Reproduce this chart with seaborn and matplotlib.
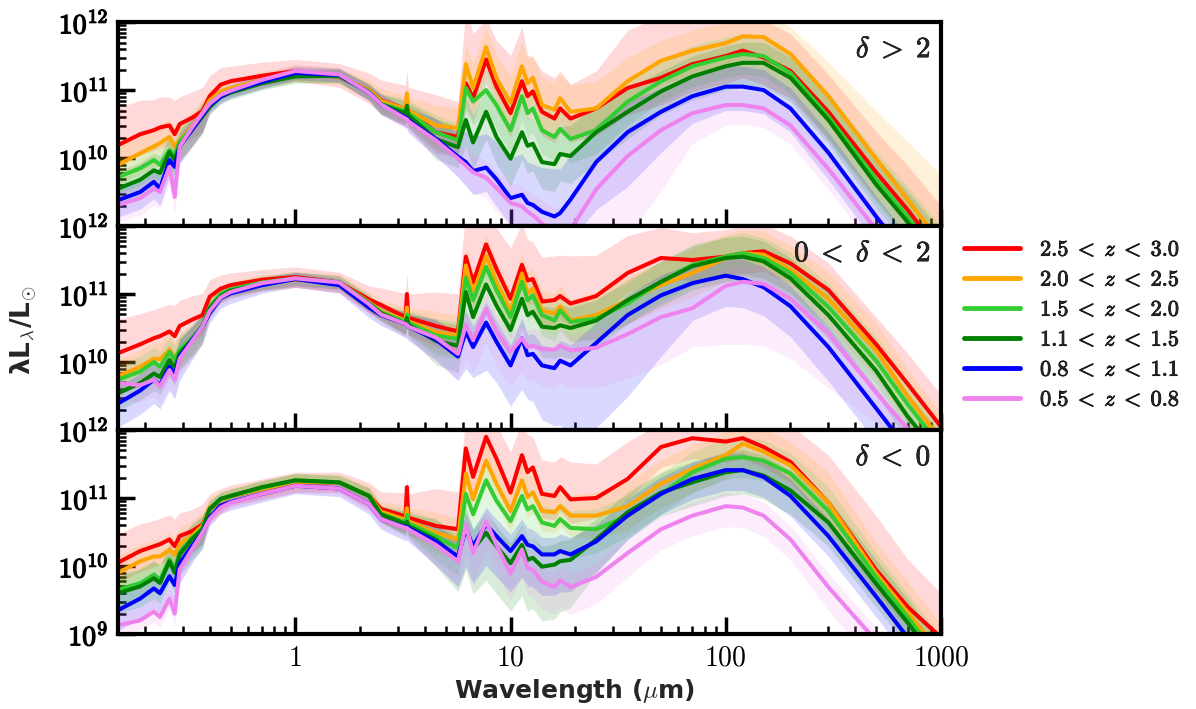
"""
Median SEDs in three delta bins, split by redshift, with spread bands.
Output: out.png
"""

import numpy as np
import pandas as pd
import matplotlib
matplotlib.use("Agg")
import matplotlib.pyplot as plt
import matplotlib.patheffects as pe
from matplotlib.lines import Line2D
from matplotlib.ticker import FixedLocator, LogLocator, NullFormatter, FixedFormatter
import seaborn as sns


# wavelength grid (micron), shared by every curve
WAVE = [0.15, 0.19, 0.22, 0.235, 0.26, 0.275, 0.29, 0.33, 0.37, 0.4, 0.45, 0.5, 0.7, 1.0,
        1.6, 2.2, 2.5, 3.25, 3.3, 3.35, 4.5, 5.7, 6.2, 6.7, 7.7, 8.6, 10, 11.3, 12.0, 12.7,
        14, 16, 17, 19, 25, 35, 50, 70, 100, 120, 150, 200, 300, 500, 700, 1000]

BINS = ["2.5<z<3.0", "2.0<z<2.5", "1.5<z<2.0", "1.1<z<1.5", "0.8<z<1.1", "0.5<z<0.8"]
LABELS = [r"$\mathbf{2.5}\;<\;z\;<\;\mathbf{3.0}$", r"$\mathbf{2.0}\;<\;z\;<\;\mathbf{2.5}$",
          r"$\mathbf{1.5}\;<\;z\;<\;\mathbf{2.0}$", r"$\mathbf{1.1}\;<\;z\;<\;\mathbf{1.5}$",
          r"$\mathbf{0.8}\;<\;z\;<\;\mathbf{1.1}$", r"$\mathbf{0.5}\;<\;z\;<\;\mathbf{0.8}$"]
COLORS = ["#ff0000", "#ffa500", "#32cd32", "#008000", "#0000ff", "#ee82ee"]
PANEL_LABELS = [r"$\delta\;>\;\mathbf{2}$", r"$\mathbf{0}\;<\;\delta\;<\;\mathbf{2}$",
                r"$\delta\;<\;\mathbf{0}$"]

# log10(lambda L_lambda / Lsun), one row per redshift bin (order of BINS)
top_med = [
    [10.19, 10.35, 10.41, 10.45, 10.48, 10.35, 10.50, 10.59, 10.69, 10.91, 11.08, 11.13, 11.21, 11.28, 11.19, 11.00, 10.85, 10.72, 10.70, 10.69, 10.38, 10.31, 11.10, 10.88, 11.45, 11.05, 10.66, 11.13, 10.91, 10.98, 10.68, 10.58, 10.73, 10.58, 10.73, 11.03, 11.18, 11.38, 11.50, 11.58, 11.48, 11.28, 10.68, 9.79, 9.24, 8.60],
    [9.90, 10.07, 10.17, 10.22, 10.31, 10.17, 10.26, 10.46, 10.66, 10.85, 10.98, 11.03, 11.15, 11.25, 11.20, 11.00, 10.84, 10.72, 10.95, 10.70, 10.48, 10.44, 11.38, 11.03, 11.63, 11.18, 10.81, 11.35, 11.10, 11.18, 10.78, 10.71, 10.88, 10.68, 10.73, 11.13, 11.43, 11.58, 11.69, 11.79, 11.78, 11.53, 10.91, 9.99, 9.39, 8.75],
    [9.72, 9.85, 9.97, 9.90, 10.12, 10.04, 10.24, 10.44, 10.63, 10.80, 10.93, 10.99, 11.12, 11.22, 11.20, 10.98, 10.80, 10.69, 10.72, 10.66, 10.38, 10.26, 11.03, 10.83, 11.00, 10.78, 10.41, 10.91, 10.66, 10.73, 10.41, 10.31, 10.43, 10.28, 10.41, 10.83, 11.13, 11.35, 11.48, 11.53, 11.50, 11.25, 10.61, 9.69, 9.14, 8.50],
    [9.55, 9.68, 9.82, 9.78, 10.09, 9.97, 10.19, 10.41, 10.61, 10.75, 10.90, 10.96, 11.10, 11.20, 11.21, 10.97, 10.79, 10.66, 10.77, 10.63, 10.28, 10.16, 10.56, 10.23, 10.68, 10.31, 9.99, 10.38, 10.18, 10.21, 9.94, 9.91, 10.06, 10.03, 10.38, 10.68, 10.98, 11.20, 11.35, 11.40, 11.40, 11.18, 10.56, 9.61, 9.06, 8.42],
    [9.38, 9.50, 9.65, 9.55, 9.97, 9.87, 10.17, 10.41, 10.63, 10.78, 10.90, 10.98, 11.12, 11.25, 11.22, 10.96, 10.79, 10.60, 10.59, 10.56, 10.28, 10.02, 9.94, 9.81, 9.86, 9.69, 9.41, 9.46, 9.34, 9.31, 9.21, 9.14, 9.19, 9.39, 9.94, 10.38, 10.68, 10.91, 11.05, 11.05, 11.00, 10.73, 10.08, 9.14, 8.55, 7.90],
    [9.31, 9.41, 9.55, 9.50, 9.87, 9.43, 10.17, 10.44, 10.66, 10.80, 10.93, 10.99, 11.15, 11.28, 11.23, 10.96, 10.79, 10.58, 10.57, 10.54, 10.26, 9.99, 9.89, 9.79, 9.71, 9.56, 9.34, 9.29, 9.21, 9.16, 9.04, 8.85, 8.88, 8.95, 9.54, 10.03, 10.41, 10.66, 10.78, 10.78, 10.73, 10.48, 9.84, 8.95, 8.35, 7.70],
]
top_hi = [
    [0.55, 0.50, 0.45, 0.45, 0.42, 0.50, 0.40, 0.38, 0.35, 0.30, 0.25, 0.22, 0.20, 0.17, 0.20, 0.25, 0.30, 0.35, 0.60, 0.35, 0.55, 0.52, 1.10, 0.95, 0.60, 0.68, 0.85, 0.80, 0.60, 0.50, 0.60, 0.60, 0.55, 0.50, 0.55, 0.85, 0.90, 0.70, 0.60, 0.55, 0.55, 0.55, 0.55, 0.60, 0.65, 0.70],
    [0.30, 0.30, 0.28, 0.28, 0.25, 0.28, 0.25, 0.22, 0.20, 0.15, 0.13, 0.12, 0.12, 0.12, 0.12, 0.15, 0.18, 0.20, 0.20, 0.20, 0.30, 0.30, 0.30, 0.35, 0.30, 0.35, 0.40, 0.35, 0.35, 0.35, 0.40, 0.40, 0.35, 0.40, 0.40, 0.35, 0.30, 0.30, 0.30, 0.30, 0.35, 0.40, 0.50, 0.70, 0.85, 1.00],
    [0.25, 0.25, 0.25, 0.25, 0.22, 0.25, 0.22, 0.20, 0.18, 0.12, 0.10, 0.10, 0.10, 0.10, 0.10, 0.12, 0.15, 0.18, 0.18, 0.18, 0.25, 0.25, 0.30, 0.30, 0.30, 0.30, 0.35, 0.30, 0.30, 0.30, 0.35, 0.35, 0.30, 0.35, 0.35, 0.30, 0.30, 0.30, 0.30, 0.30, 0.30, 0.30, 0.35, 0.40, 0.45, 0.50],
    [0.25, 0.25, 0.25, 0.25, 0.22, 0.25, 0.22, 0.20, 0.18, 0.12, 0.10, 0.10, 0.10, 0.10, 0.10, 0.12, 0.15, 0.18, 0.18, 0.18, 0.30, 0.30, 0.35, 0.40, 0.35, 0.40, 0.45, 0.40, 0.40, 0.40, 0.45, 0.45, 0.40, 0.45, 0.40, 0.35, 0.30, 0.30, 0.30, 0.30, 0.30, 0.30, 0.35, 0.40, 0.45, 0.50],
    [0.20, 0.20, 0.20, 0.20, 0.18, 0.20, 0.18, 0.15, 0.14, 0.12, 0.10, 0.10, 0.10, 0.10, 0.10, 0.12, 0.15, 0.15, 0.15, 0.18, 0.30, 0.35, 0.45, 0.50, 0.50, 0.55, 0.60, 0.60, 0.60, 0.60, 0.65, 0.70, 0.65, 0.65, 0.55, 0.45, 0.35, 0.30, 0.30, 0.30, 0.30, 0.30, 0.30, 0.30, 0.30, 0.30],
    [0.20, 0.20, 0.20, 0.20, 0.18, 0.25, 0.18, 0.15, 0.14, 0.12, 0.10, 0.10, 0.10, 0.10, 0.10, 0.12, 0.15, 0.15, 0.15, 0.15, 0.20, 0.20, 0.25, 0.25, 0.25, 0.25, 0.30, 0.30, 0.30, 0.30, 0.35, 0.40, 0.40, 0.45, 0.45, 0.40, 0.30, 0.25, 0.22, 0.22, 0.22, 0.22, 0.25, 0.30, 0.30, 0.30],
]
top_lo = [
    [0.30, 0.30, 0.30, 0.30, 0.30, 0.30, 0.30, 0.30, 0.30, 0.20, 0.18, 0.15, 0.15, 0.15, 0.15, 0.20, 0.20, 0.25, 0.25, 0.25, 0.30, 0.30, 0.35, 0.35, 0.35, 0.35, 0.35, 0.35, 0.35, 0.35, 0.35, 0.35, 0.35, 0.35, 0.40, 0.40, 0.40, 0.40, 0.40, 0.40, 0.40, 0.40, 0.40, 0.40, 0.40, 0.40],
    [0.30, 0.30, 0.30, 0.30, 0.30, 0.30, 0.30, 0.30, 0.30, 0.15, 0.12, 0.12, 0.12, 0.12, 0.12, 0.15, 0.15, 0.20, 0.20, 0.20, 0.30, 0.30, 0.35, 0.35, 0.35, 0.35, 0.35, 0.35, 0.35, 0.35, 0.35, 0.35, 0.35, 0.35, 0.35, 0.35, 0.35, 0.35, 0.35, 0.35, 0.35, 0.35, 0.40, 0.40, 0.40, 0.40],
    [0.25, 0.25, 0.25, 0.25, 0.25, 0.25, 0.25, 0.25, 0.25, 0.12, 0.10, 0.10, 0.10, 0.10, 0.10, 0.12, 0.15, 0.18, 0.18, 0.18, 0.25, 0.25, 0.35, 0.35, 0.35, 0.35, 0.35, 0.35, 0.35, 0.35, 0.35, 0.35, 0.35, 0.35, 0.35, 0.35, 0.30, 0.30, 0.30, 0.30, 0.30, 0.30, 0.35, 0.35, 0.35, 0.35],
    [0.25, 0.25, 0.25, 0.25, 0.25, 0.25, 0.25, 0.25, 0.25, 0.12, 0.10, 0.10, 0.10, 0.10, 0.10, 0.12, 0.15, 0.18, 0.18, 0.18, 0.30, 0.30, 0.40, 0.40, 0.40, 0.40, 0.40, 0.40, 0.40, 0.40, 0.40, 0.40, 0.40, 0.40, 0.45, 0.40, 0.35, 0.35, 0.35, 0.35, 0.35, 0.35, 0.35, 0.35, 0.35, 0.35],
    [0.25, 0.25, 0.25, 0.25, 0.25, 0.25, 0.25, 0.25, 0.25, 0.12, 0.10, 0.10, 0.10, 0.10, 0.10, 0.12, 0.15, 0.15, 0.15, 0.18, 0.25, 0.30, 0.35, 0.35, 0.35, 0.40, 0.40, 0.45, 0.45, 0.45, 0.50, 0.60, 0.60, 0.60, 0.70, 0.80, 0.60, 0.40, 0.35, 0.35, 0.35, 0.35, 0.40, 0.40, 0.40, 0.40],
    [0.25, 0.25, 0.25, 0.25, 0.25, 0.25, 0.25, 0.25, 0.25, 0.12, 0.10, 0.10, 0.10, 0.10, 0.10, 0.12, 0.15, 0.15, 0.15, 0.18, 0.25, 0.25, 0.30, 0.30, 0.30, 0.35, 0.35, 0.40, 0.40, 0.40, 0.45, 0.50, 0.50, 0.60, 1.00, 1.20, 0.90, 0.45, 0.30, 0.28, 0.28, 0.28, 0.30, 0.35, 0.35, 0.35],
]

mid_med = [
    [10.13, 10.26, 10.35, 10.38, 10.45, 10.38, 10.53, 10.62, 10.69, 10.96, 11.08, 11.13, 11.21, 11.25, 11.17, 10.92, 10.84, 10.66, 11.00, 10.65, 10.53, 10.45, 11.55, 11.17, 11.73, 11.37, 10.93, 11.43, 11.20, 11.22, 10.89, 10.91, 10.97, 10.86, 10.97, 11.31, 11.53, 11.50, 11.55, 11.60, 11.63, 11.45, 11.06, 10.26, 9.68, 9.05],
    [9.79, 9.93, 10.05, 10.04, 10.18, 10.05, 10.15, 10.32, 10.52, 10.79, 10.99, 11.06, 11.16, 11.21, 11.17, 10.88, 10.75, 10.61, 10.80, 10.60, 10.44, 10.39, 11.42, 11.01, 11.56, 11.18, 10.76, 11.30, 11.01, 11.08, 10.76, 10.71, 10.82, 10.61, 10.69, 10.91, 11.13, 11.31, 11.53, 11.60, 11.58, 11.36, 10.93, 10.17, 9.50, 8.85],
    [9.74, 9.86, 10.00, 9.93, 10.15, 10.03, 10.18, 10.35, 10.54, 10.81, 11.00, 11.07, 11.17, 11.23, 11.17, 10.87, 10.73, 10.59, 10.70, 10.58, 10.39, 10.34, 11.24, 10.91, 11.40, 11.06, 10.66, 11.18, 10.91, 10.98, 10.69, 10.61, 10.76, 10.59, 10.64, 10.86, 11.18, 11.43, 11.55, 11.60, 11.53, 11.31, 10.81, 10.02, 9.38, 8.75],
    [9.54, 9.69, 9.83, 9.78, 10.03, 9.91, 10.13, 10.32, 10.52, 10.79, 10.97, 11.05, 11.15, 11.22, 11.17, 10.86, 10.72, 10.56, 10.65, 10.55, 10.31, 10.24, 11.03, 10.66, 11.14, 10.83, 10.47, 10.93, 10.69, 10.74, 10.52, 10.50, 10.54, 10.50, 10.61, 10.91, 11.18, 11.41, 11.53, 11.55, 11.48, 11.23, 10.69, 9.87, 9.20, 8.60],
    [9.39, 9.58, 9.74, 9.66, 9.93, 9.81, 10.08, 10.32, 10.52, 10.72, 10.94, 11.01, 11.13, 11.22, 11.13, 10.80, 10.69, 10.56, 10.55, 10.52, 10.33, 10.08, 10.45, 10.22, 10.58, 10.30, 9.95, 10.35, 10.10, 10.12, 9.95, 9.91, 10.02, 9.95, 10.28, 10.69, 10.98, 11.16, 11.27, 11.22, 11.10, 10.82, 10.22, 9.32, 8.72, 8.08],
    [9.69, 9.66, 9.74, 9.64, 9.88, 9.74, 10.05, 10.30, 10.52, 10.75, 10.95, 11.03, 11.16, 11.23, 11.17, 10.85, 10.70, 10.56, 10.55, 10.52, 10.36, 10.12, 10.55, 10.32, 10.78, 10.45, 10.15, 10.35, 10.22, 10.24, 10.19, 10.18, 10.24, 10.17, 10.21, 10.41, 10.66, 10.79, 11.12, 11.18, 11.15, 10.93, 10.42, 9.55, 9.02, 8.40],
]
mid_hi = [
    [0.50, 0.45, 0.42, 0.42, 0.40, 0.45, 0.38, 0.35, 0.32, 0.25, 0.20, 0.18, 0.15, 0.15, 0.15, 0.20, 0.25, 0.35, 0.30, 0.35, 0.50, 0.55, 0.70, 0.85, 0.50, 0.60, 0.75, 0.60, 0.60, 0.55, 0.65, 0.65, 0.60, 0.70, 0.60, 0.55, 0.45, 0.40, 0.40, 0.40, 0.40, 0.40, 0.40, 0.40, 0.45, 0.47],
    [0.25, 0.25, 0.25, 0.25, 0.25, 0.25, 0.25, 0.22, 0.20, 0.15, 0.12, 0.12, 0.12, 0.12, 0.12, 0.15, 0.15, 0.20, 0.20, 0.20, 0.30, 0.30, 0.30, 0.30, 0.30, 0.30, 0.30, 0.30, 0.30, 0.30, 0.30, 0.30, 0.30, 0.30, 0.35, 0.35, 0.35, 0.35, 0.35, 0.35, 0.35, 0.35, 0.40, 0.40, 0.40, 0.40],
    [0.22, 0.22, 0.22, 0.22, 0.22, 0.22, 0.22, 0.20, 0.18, 0.12, 0.10, 0.10, 0.10, 0.10, 0.10, 0.12, 0.12, 0.18, 0.18, 0.18, 0.25, 0.25, 0.25, 0.25, 0.25, 0.25, 0.25, 0.25, 0.25, 0.25, 0.25, 0.25, 0.25, 0.25, 0.30, 0.30, 0.30, 0.30, 0.30, 0.30, 0.30, 0.30, 0.35, 0.35, 0.35, 0.35],
    [0.22, 0.22, 0.22, 0.22, 0.22, 0.22, 0.22, 0.20, 0.18, 0.12, 0.10, 0.10, 0.10, 0.10, 0.10, 0.12, 0.12, 0.18, 0.18, 0.18, 0.30, 0.30, 0.30, 0.30, 0.30, 0.30, 0.30, 0.30, 0.30, 0.30, 0.30, 0.30, 0.30, 0.30, 0.30, 0.30, 0.30, 0.30, 0.30, 0.30, 0.30, 0.30, 0.35, 0.35, 0.35, 0.35],
    [0.25, 0.25, 0.25, 0.25, 0.25, 0.25, 0.25, 0.20, 0.18, 0.12, 0.10, 0.10, 0.10, 0.10, 0.10, 0.12, 0.12, 0.18, 0.18, 0.18, 0.30, 0.30, 0.30, 0.30, 0.30, 0.30, 0.30, 0.30, 0.30, 0.30, 0.30, 0.30, 0.30, 0.30, 0.30, 0.30, 0.30, 0.30, 0.30, 0.30, 0.30, 0.30, 0.30, 0.30, 0.30, 0.30],
    [0.20, 0.20, 0.20, 0.20, 0.20, 0.20, 0.20, 0.18, 0.16, 0.12, 0.10, 0.10, 0.10, 0.10, 0.10, 0.12, 0.12, 0.15, 0.15, 0.15, 0.25, 0.25, 0.25, 0.25, 0.25, 0.25, 0.25, 0.25, 0.25, 0.25, 0.25, 0.25, 0.25, 0.25, 0.25, 0.25, 0.25, 0.25, 0.25, 0.25, 0.25, 0.25, 0.25, 0.25, 0.25, 0.25],
]
mid_lo = [
    [0.30, 0.30, 0.30, 0.30, 0.30, 0.30, 0.30, 0.30, 0.30, 0.20, 0.18, 0.15, 0.15, 0.15, 0.15, 0.20, 0.20, 0.25, 0.25, 0.25, 0.30, 0.30, 0.35, 0.35, 0.35, 0.35, 0.35, 0.35, 0.35, 0.35, 0.35, 0.35, 0.35, 0.35, 0.30, 0.30, 0.30, 0.30, 0.30, 0.30, 0.30, 0.30, 0.30, 0.30, 0.30, 0.30],
    [0.25, 0.25, 0.25, 0.25, 0.25, 0.25, 0.25, 0.25, 0.25, 0.15, 0.12, 0.12, 0.12, 0.12, 0.12, 0.15, 0.15, 0.20, 0.20, 0.20, 0.30, 0.30, 0.30, 0.30, 0.30, 0.30, 0.30, 0.30, 0.30, 0.30, 0.30, 0.30, 0.30, 0.30, 0.35, 0.35, 0.35, 0.35, 0.35, 0.35, 0.35, 0.35, 0.40, 0.40, 0.40, 0.40],
    [0.22, 0.22, 0.22, 0.22, 0.22, 0.22, 0.22, 0.22, 0.22, 0.12, 0.10, 0.10, 0.10, 0.10, 0.10, 0.12, 0.12, 0.18, 0.18, 0.18, 0.30, 0.30, 0.30, 0.30, 0.30, 0.30, 0.30, 0.30, 0.30, 0.30, 0.30, 0.30, 0.30, 0.30, 0.30, 0.30, 0.30, 0.30, 0.30, 0.30, 0.30, 0.30, 0.35, 0.35, 0.35, 0.35],
    [0.25, 0.25, 0.25, 0.25, 0.25, 0.25, 0.25, 0.25, 0.25, 0.12, 0.10, 0.10, 0.10, 0.10, 0.10, 0.12, 0.12, 0.18, 0.18, 0.18, 0.35, 0.40, 0.45, 0.45, 0.45, 0.45, 0.45, 0.45, 0.45, 0.45, 0.45, 0.45, 0.45, 0.45, 0.40, 0.35, 0.35, 0.35, 0.35, 0.35, 0.35, 0.35, 0.35, 0.35, 0.35, 0.35],
    [0.35, 0.35, 0.35, 0.35, 0.35, 0.35, 0.35, 0.30, 0.25, 0.15, 0.15, 0.15, 0.12, 0.12, 0.12, 0.15, 0.15, 0.20, 0.20, 0.20, 0.30, 0.35, 0.55, 0.45, 0.70, 0.60, 0.60, 0.75, 0.65, 0.70, 0.80, 0.85, 0.95, 1.00, 1.25, 1.20, 0.90, 0.55, 0.45, 0.42, 0.42, 0.45, 0.50, 0.50, 0.50, 0.50],
    [0.25, 0.25, 0.25, 0.25, 0.25, 0.25, 0.25, 0.22, 0.20, 0.12, 0.12, 0.12, 0.12, 0.12, 0.12, 0.15, 0.15, 0.20, 0.20, 0.20, 0.35, 0.40, 0.50, 0.50, 0.50, 0.50, 0.50, 0.50, 0.50, 0.50, 0.55, 0.55, 0.55, 0.55, 0.60, 0.65, 0.70, 0.57, 0.86, 0.92, 0.91, 0.88, 0.80, 0.45, 0.35, 0.35],
]

bot_med = [
    [10.05, 10.22, 10.29, 10.32, 10.39, 10.29, 10.44, 10.51, 10.61, 10.84, 10.96, 11.03, 11.13, 11.23, 11.23, 11.03, 10.84, 10.73, 11.16, 10.71, 10.59, 10.54, 11.73, 11.31, 11.90, 11.58, 11.08, 11.63, 11.38, 11.45, 11.06, 11.03, 11.16, 10.98, 11.00, 11.28, 11.75, 11.88, 11.83, 11.88, 11.75, 11.53, 10.93, 9.94, 9.40, 8.95],
    [9.90, 10.07, 10.14, 10.14, 10.24, 10.17, 10.32, 10.44, 10.59, 10.86, 10.96, 11.03, 11.13, 11.24, 11.23, 11.03, 10.80, 10.68, 10.85, 10.66, 10.49, 10.39, 11.36, 10.98, 11.55, 11.21, 10.81, 11.26, 11.01, 11.08, 10.81, 10.79, 10.88, 10.74, 10.74, 10.88, 11.21, 11.43, 11.63, 11.80, 11.68, 11.48, 10.93, 9.89, 9.32, 8.70],
    [9.65, 9.75, 9.87, 9.80, 10.10, 9.95, 10.20, 10.41, 10.56, 10.84, 10.98, 11.03, 11.15, 11.26, 11.23, 11.03, 10.77, 10.64, 10.75, 10.63, 10.44, 10.26, 11.06, 10.76, 11.26, 10.96, 10.66, 11.03, 10.83, 10.88, 10.64, 10.59, 10.69, 10.56, 10.54, 10.74, 11.06, 11.38, 11.58, 11.60, 11.55, 11.36, 10.81, 9.84, 9.25, 8.60],
    [9.60, 9.70, 9.82, 9.75, 10.07, 9.90, 10.17, 10.39, 10.54, 10.84, 10.99, 11.03, 11.16, 11.26, 11.23, 11.03, 10.76, 10.62, 10.65, 10.59, 10.39, 10.12, 10.59, 10.24, 10.49, 10.29, 10.04, 10.31, 10.09, 10.12, 9.99, 10.02, 10.07, 10.09, 10.39, 10.79, 11.08, 11.23, 11.38, 11.41, 11.33, 11.11, 10.64, 9.74, 9.17, 8.50],
    [9.35, 9.52, 9.67, 9.60, 9.85, 9.72, 10.04, 10.29, 10.49, 10.71, 10.89, 10.94, 11.06, 11.18, 11.14, 10.91, 10.69, 10.57, 10.58, 10.56, 10.36, 10.14, 10.54, 10.29, 10.61, 10.44, 10.22, 10.44, 10.31, 10.29, 10.17, 10.17, 10.22, 10.17, 10.36, 10.74, 11.06, 11.28, 11.41, 11.41, 11.31, 11.03, 10.44, 9.55, 8.95, 8.30],
    [9.13, 9.20, 9.33, 9.25, 9.52, 9.30, 9.95, 10.24, 10.49, 10.69, 10.86, 10.93, 11.06, 11.18, 11.14, 10.91, 10.69, 10.56, 10.56, 10.54, 10.31, 10.07, 10.61, 10.19, 10.66, 10.31, 9.89, 10.24, 9.97, 9.94, 9.77, 9.69, 9.79, 9.69, 9.84, 10.19, 10.54, 10.74, 10.88, 10.86, 10.74, 10.39, 9.69, 8.90, 8.30, 7.70],
]
bot_hi = [
    [0.42, 0.40, 0.38, 0.38, 0.36, 0.40, 0.34, 0.32, 0.30, 0.22, 0.18, 0.16, 0.15, 0.15, 0.15, 0.20, 0.25, 0.35, 0.15, 0.35, 0.55, 0.55, 0.45, 0.70, 0.35, 0.50, 0.60, 0.50, 0.55, 0.45, 0.50, 0.50, 0.45, 0.55, 0.50, 0.55, 0.35, 0.30, 0.35, 0.35, 0.45, 0.55, 0.70, 0.80, 0.70, 0.65],
    [0.25, 0.25, 0.25, 0.25, 0.25, 0.25, 0.25, 0.22, 0.20, 0.15, 0.12, 0.12, 0.12, 0.12, 0.12, 0.15, 0.15, 0.20, 0.20, 0.20, 0.30, 0.30, 0.30, 0.30, 0.30, 0.30, 0.30, 0.30, 0.30, 0.30, 0.30, 0.30, 0.30, 0.30, 0.35, 0.35, 0.35, 0.35, 0.35, 0.35, 0.35, 0.35, 0.45, 0.45, 0.45, 0.45],
    [0.22, 0.22, 0.22, 0.22, 0.22, 0.22, 0.22, 0.20, 0.18, 0.12, 0.10, 0.10, 0.10, 0.10, 0.10, 0.12, 0.12, 0.18, 0.18, 0.18, 0.25, 0.25, 0.25, 0.25, 0.25, 0.25, 0.25, 0.25, 0.25, 0.25, 0.25, 0.25, 0.25, 0.25, 0.30, 0.30, 0.30, 0.30, 0.30, 0.30, 0.30, 0.30, 0.35, 0.35, 0.35, 0.35],
    [0.25, 0.25, 0.25, 0.25, 0.25, 0.25, 0.25, 0.22, 0.20, 0.12, 0.10, 0.10, 0.10, 0.10, 0.10, 0.12, 0.12, 0.18, 0.18, 0.18, 0.30, 0.30, 0.30, 0.30, 0.30, 0.30, 0.30, 0.30, 0.30, 0.30, 0.30, 0.30, 0.30, 0.30, 0.30, 0.30, 0.30, 0.30, 0.30, 0.30, 0.30, 0.30, 0.35, 0.35, 0.35, 0.35],
    [0.25, 0.25, 0.25, 0.25, 0.25, 0.25, 0.25, 0.22, 0.20, 0.12, 0.10, 0.10, 0.10, 0.10, 0.10, 0.12, 0.12, 0.18, 0.18, 0.18, 0.25, 0.25, 0.25, 0.25, 0.25, 0.25, 0.25, 0.25, 0.25, 0.25, 0.25, 0.25, 0.25, 0.25, 0.25, 0.25, 0.25, 0.25, 0.25, 0.25, 0.25, 0.25, 0.25, 0.25, 0.25, 0.25],
    [0.20, 0.20, 0.20, 0.20, 0.20, 0.20, 0.20, 0.18, 0.16, 0.12, 0.10, 0.10, 0.10, 0.10, 0.10, 0.12, 0.12, 0.15, 0.15, 0.15, 0.20, 0.20, 0.20, 0.20, 0.20, 0.20, 0.20, 0.20, 0.20, 0.20, 0.20, 0.20, 0.20, 0.20, 0.20, 0.20, 0.20, 0.20, 0.20, 0.20, 0.20, 0.20, 0.20, 0.20, 0.20, 0.20],
]
bot_lo = [
    [0.30, 0.30, 0.30, 0.30, 0.30, 0.30, 0.30, 0.30, 0.30, 0.20, 0.18, 0.15, 0.15, 0.15, 0.15, 0.20, 0.20, 0.25, 0.25, 0.25, 0.30, 0.30, 0.35, 0.35, 0.35, 0.35, 0.35, 0.35, 0.35, 0.35, 0.35, 0.35, 0.35, 0.35, 0.30, 0.30, 0.30, 0.30, 0.30, 0.30, 0.30, 0.30, 0.30, 0.30, 0.30, 0.30],
    [0.25, 0.25, 0.25, 0.25, 0.25, 0.25, 0.25, 0.25, 0.25, 0.15, 0.12, 0.12, 0.12, 0.12, 0.12, 0.15, 0.15, 0.20, 0.20, 0.20, 0.30, 0.30, 0.30, 0.30, 0.30, 0.30, 0.30, 0.30, 0.30, 0.30, 0.30, 0.30, 0.30, 0.30, 0.35, 0.35, 0.35, 0.35, 0.35, 0.35, 0.35, 0.35, 0.40, 0.40, 0.40, 0.40],
    [0.25, 0.25, 0.25, 0.25, 0.25, 0.25, 0.25, 0.25, 0.25, 0.12, 0.10, 0.10, 0.10, 0.10, 0.10, 0.12, 0.12, 0.18, 0.18, 0.18, 0.35, 0.40, 0.45, 0.45, 0.45, 0.45, 0.45, 0.45, 0.45, 0.45, 0.45, 0.45, 0.45, 0.45, 0.35, 0.30, 0.30, 0.30, 0.30, 0.30, 0.30, 0.30, 0.35, 0.35, 0.35, 0.35],
    [0.30, 0.30, 0.30, 0.30, 0.30, 0.30, 0.30, 0.30, 0.30, 0.12, 0.10, 0.10, 0.10, 0.10, 0.10, 0.12, 0.12, 0.18, 0.18, 0.18, 0.40, 0.50, 0.65, 0.65, 0.70, 0.70, 0.70, 0.75, 0.75, 0.75, 0.80, 0.80, 0.75, 0.70, 0.50, 0.40, 0.35, 0.35, 0.35, 0.35, 0.35, 0.35, 0.35, 0.35, 0.35, 0.35],
    [0.30, 0.30, 0.30, 0.30, 0.30, 0.30, 0.30, 0.25, 0.22, 0.12, 0.12, 0.12, 0.12, 0.12, 0.12, 0.15, 0.15, 0.20, 0.20, 0.20, 0.35, 0.45, 0.55, 0.55, 0.60, 0.60, 0.60, 0.60, 0.60, 0.60, 0.60, 0.60, 0.60, 0.55, 0.45, 0.35, 0.30, 0.30, 0.30, 0.30, 0.30, 0.30, 0.30, 0.30, 0.30, 0.30],
    [0.15, 0.15, 0.15, 0.15, 0.15, 0.20, 0.15, 0.15, 0.15, 0.10, 0.10, 0.10, 0.10, 0.10, 0.10, 0.12, 0.12, 0.15, 0.15, 0.15, 0.30, 0.35, 0.40, 0.40, 0.40, 0.40, 0.40, 0.40, 0.40, 0.40, 0.40, 0.40, 0.40, 0.40, 0.40, 0.35, 0.30, 0.30, 0.30, 0.30, 0.30, 0.30, 0.35, 0.35, 0.35, 0.35],
]

BOLD = [pe.withStroke(linewidth=0.9, foreground="black")]


def _style():
    sns.set_theme(style="ticks")
    plt.rcParams.update({
        "font.family": ["DejaVu Sans"],
        "mathtext.fontset": "cm",
        "axes.linewidth": 3.0,
        "axes.edgecolor": "black",
        "xtick.color": "black",
        "ytick.color": "black",
    })


def draw_panel(ax, med, lo, hi, label, show_bottom_label):
    ax.set_xscale("log")
    ax.set_yscale("log")

    for m, l, h, c in zip(med, lo, hi, COLORS):
        m, l, h = np.array(m), np.array(l), np.array(h)
        ax.fill_between(WAVE, 10 ** (m - l), 10 ** (m + h), color=c, alpha=0.15,
                        lw=0, zorder=1)

    long = pd.DataFrame([
        {"wave": w, "lum": 10 ** v, "bin": b}
        for b, row in zip(BINS, med) for w, v in zip(WAVE, row)
    ])
    sns.lineplot(data=long, x="wave", y="lum", hue="bin", hue_order=BINS,
                 palette=COLORS, estimator=None, sort=False, lw=2.9,
                 legend=False, ax=ax, zorder=3)

    ax.set_xlim(0.15, 1000)
    ax.set_ylim(1e9, 1e12)
    ax.set_xlabel("")
    ax.set_ylabel("")

    ax.yaxis.set_major_locator(FixedLocator([1e9, 1e10, 1e11, 1e12]))
    ylabels = [r"$\mathbf{10}^{\mathbf{9}}$" if show_bottom_label else "",
               r"$\mathbf{10}^{\mathbf{10}}$", r"$\mathbf{10}^{\mathbf{11}}$",
               r"$\mathbf{10}^{\mathbf{12}}$"]
    ax.yaxis.set_major_formatter(FixedFormatter(ylabels))
    ax.yaxis.set_minor_locator(LogLocator(base=10, subs=np.arange(2, 10), numticks=20))
    ax.yaxis.set_minor_formatter(NullFormatter())

    ax.xaxis.set_major_locator(FixedLocator([1, 10, 100, 1000]))
    ax.xaxis.set_minor_locator(LogLocator(base=10, subs=np.arange(2, 10), numticks=20))
    ax.xaxis.set_minor_formatter(NullFormatter())
    if show_bottom_label:
        ax.xaxis.set_major_formatter(FixedFormatter(
            [r"$\mathrm{1}$", r"$\mathrm{10}$", r"$\mathrm{100}$", r"$\mathrm{1000}$"]))
    else:
        ax.xaxis.set_major_formatter(NullFormatter())

    ax.tick_params(which="major", direction="in", length=12, width=2.5,
                   labelsize=20, pad=7, top=False, right=False)
    ax.tick_params(which="minor", direction="in", length=6, width=1.8,
                   top=False, right=False)
    for t in ax.get_yticklabels():
        t.set_path_effects(BOLD)
    for sp in ax.spines.values():
        sp.set_linewidth(3.0)
        sp.set_zorder(5)

    txt = ax.text(0.988, 0.935, label, transform=ax.transAxes, ha="right", va="top",
                  fontsize=21, zorder=6)
    txt.set_path_effects([pe.withStroke(linewidth=0.5, foreground="black")])


def main():
    _style()
    fig = plt.figure(figsize=(11.96, 7.09), dpi=100)

    left, width, height = 0.0987, 0.6880, 0.2877
    bottoms = [0.1058 + 2 * height, 0.1058 + height, 0.1058]
    data = [(top_med, top_lo, top_hi), (mid_med, mid_lo, mid_hi), (bot_med, bot_lo, bot_hi)]

    for i, (b, (med, lo, hi)) in enumerate(zip(bottoms, data)):
        ax = fig.add_axes([left, b, width, height])
        draw_panel(ax, med, lo, hi, PANEL_LABELS[i], show_bottom_label=(i == 2))

    handles = [Line2D([0], [0], color=c, lw=3.5) for c in COLORS]
    leg = fig.legend(handles, LABELS, loc="center left", bbox_to_anchor=(0.799, 0.542),
                     frameon=False, fontsize=16, handlelength=2.5, handletextpad=0.9,
                     labelspacing=0.45, borderaxespad=0)
    for t in leg.get_texts():
        t.set_path_effects([pe.withStroke(linewidth=0.6, foreground="black")])

    fig.text(0.48, 0.025, r"Wavelength ($\mu$m)", ha="center", va="center",
             fontsize=18, fontweight="bold")
    fig.text(0.02, 0.535, r"λL$_{\lambda}$/L$_{\odot}$", ha="center", va="center",
             rotation=90, fontsize=19, fontweight="bold")

    fig.savefig("out.png", dpi=100)
    plt.close(fig)


if __name__ == "__main__":
    main()
